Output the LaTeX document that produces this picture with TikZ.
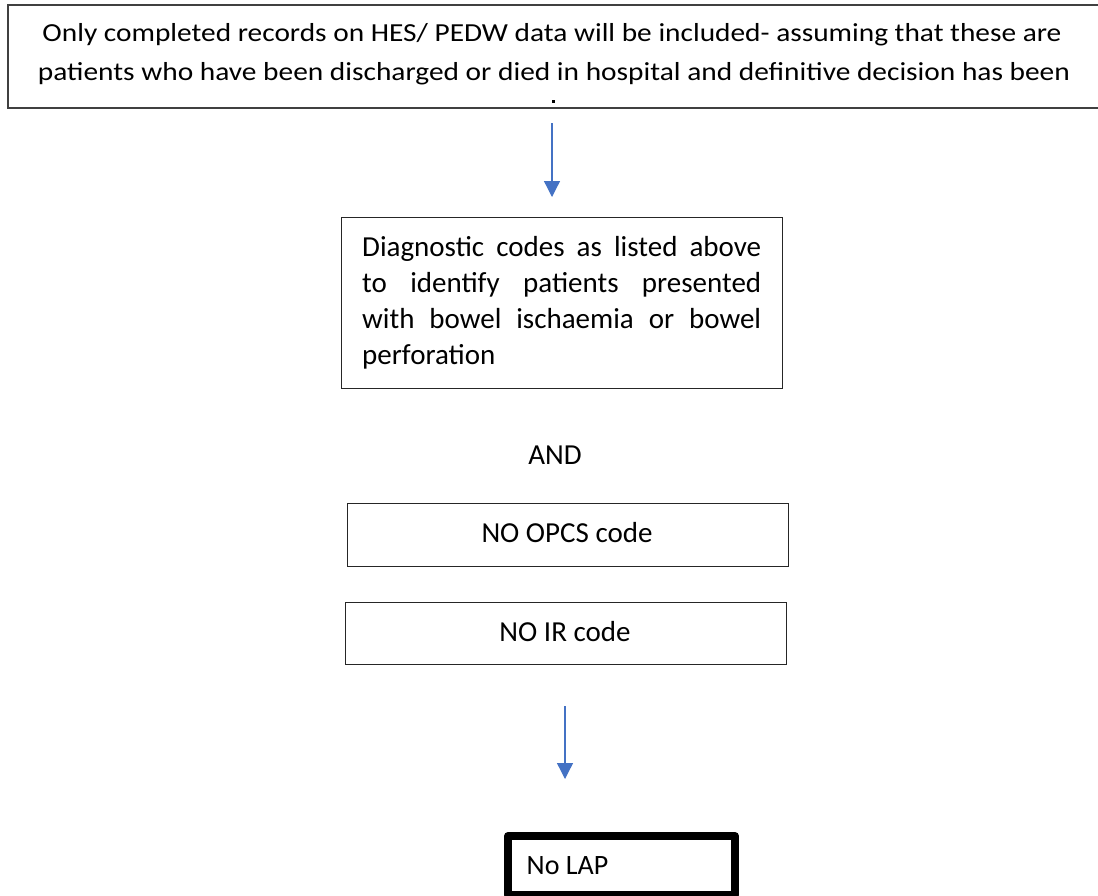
\documentclass[tikz,border=0pt]{standalone}
\usepackage{fontspec}
\setmainfont{Carlito}
\usetikzlibrary{arrows.meta}
\definecolor{arrowblue}{HTML}{4472C4}
\begin{document}
\begin{tikzpicture}[x=1pt,y=-1pt,
  boxline/.style={draw=black!85, line width=1.2pt},
  arr/.style={draw=arrowblue, line width=1.3pt, -{Triangle[width=16pt,length=16pt]}},
  lbl/.style={inner sep=0pt, font=\fontsize{29}{35}\selectfont},
  topline/.style={inner sep=0pt, anchor=base, font=\fontsize{26}{31}\selectfont}
]
\useasboundingbox (0,0) rectangle (1098,895);
% top box (runs past the right edge)
\draw[boxline, draw=black!75, line width=1.5pt] (8,5) rectangle (1115,108);
\node[topline] (t1) at (552,41) {\resizebox{1019pt}{\height}{Only completed records on HES/ PEDW data will be included- assuming that these are}};
\node[topline] (t2) at (554,80) {\resizebox{1032pt}{\height}{patients who have been discharged or died in hospital and definitive decision has been}};
\fill (552,99.5) rectangle (554.5,103);
% arrow 1
\coordinate (a1s) at (552,123);
\coordinate (a1e) at (552,197);
\draw[arr] (a1s) -- (a1e);
% diagnostic box
\node[boxline, minimum width=441pt, minimum height=171pt, anchor=north west, inner sep=0pt] (diag) at (341,217) {};
\node[lbl, anchor=base west, align=left] (diagtxt) at (362,256.5) {\parbox[t]{399pt}{\fontsize{29}{36}\selectfont
\makebox[399pt][s]{Diagnostic codes as listed above}\\
\makebox[399pt][s]{to identify patients presented}\\
\makebox[399pt][s]{with bowel ischaemia or bowel}\\
perforation}};
% AND
\node[lbl, anchor=base] (and) at (555,464) {AND};
% NO OPCS
\node[boxline, minimum width=441pt, minimum height=63pt, anchor=north west, inner sep=0pt] (opcs) at (347,503) {};
\node[lbl, anchor=base] (opcstxt) at (567,542) {NO OPCS code};
% NO IR
\node[boxline, minimum width=441pt, minimum height=62pt, anchor=north west, inner sep=0pt] (ir) at (345,602) {};
\node[lbl, anchor=base] (irtxt) at (565,641) {NO IR code};
% arrow 2
\coordinate (a2s) at (565,706);
\coordinate (a2e) at (565,779);
\draw[arr] (a2s) -- (a2e);
% No LAP
\node[draw=black, line width=8pt, line join=round, minimum width=227pt, minimum height=59pt, anchor=north west, inner sep=0pt] (lap) at (504,832) {};
\node[lbl, anchor=base, font=\fontsize{28}{34}\selectfont] (laptxt) at (567.5,874) {No LAP};
\end{tikzpicture}
\end{document}
